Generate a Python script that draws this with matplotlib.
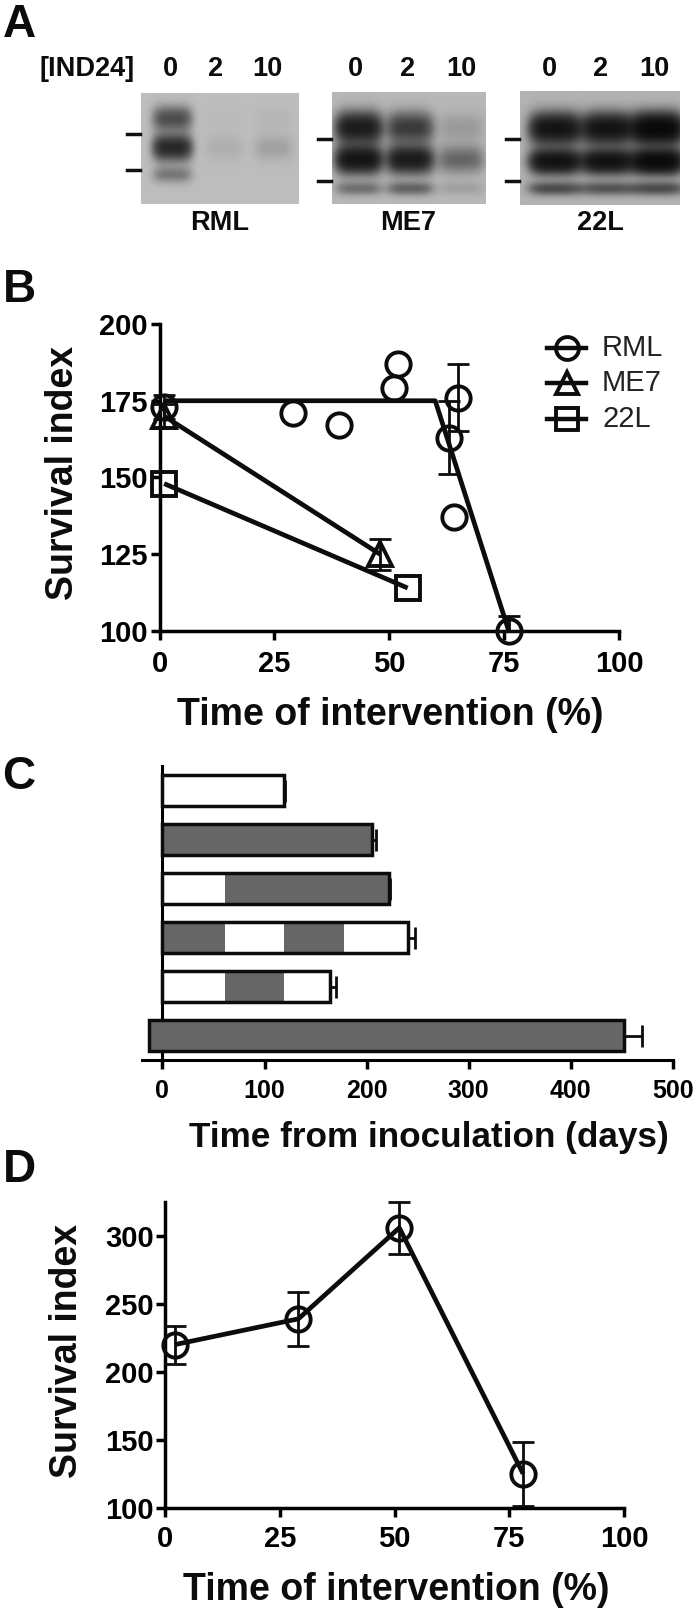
import numpy as np
from matplotlib import pyplot as plt

plt.rcParams['font.family'] = ['Liberation Sans', 'DejaVu Sans']
plt.rcParams['font.weight'] = 'bold'

W, H = 697, 1613
LW = 2.5

# --- Panel A: blots (band rows and lane strengths)
blot_names = ['RML', 'ME7', '22L']
blot_doses = ['0', '2', '10']
dose_x = [[170, 215.5, 267.5], [355.5, 408, 461], [549, 601, 654]]
blot_boxes = [(141, 93, 299, 204), (331.5, 92, 485, 204), (520, 91, 680, 205)]
blot_bg = [0.74, 0.72, 0.70]
lane_x = [[172, 224, 273], [358, 409, 460], [555, 607, 657]]
band_y = [[118, 147, 174], [127, 159, 188], [128, 161, 188]]
band_dark = [
    [[0.90, 0.02, 0.04], [1.55, 0.08, 0.16], [0.45, 0.0, 0.0]],
    [[1.90, 1.15, 0.18], [2.20, 1.90, 0.60], [0.50, 0.62, 0.14]],
    [[2.20, 2.20, 2.90], [2.30, 2.30, 2.80], [0.85, 0.75, 0.85]],
]
band_h = [[8, 8.5, 5.5], [10, 9, 4.5], [10, 8, 4.5]]
band_w = [[16, 16, 16], [19, 19, 19], [21, 21, 22]]
blot_marks = [[134, 170], [139, 181], [139, 181]]

# --- Panel B
rml_x = [1, 29, 39, 51, 52, 63, 64, 65, 76]
rml_y = [173, 171, 167, 179, 187, 163, 137, 176, 100]
rml_err_x = [1, 63, 65, 76]
rml_err_y = [173, 163, 176, 100]
rml_hi = [177, 175, 187, 105]
rml_lo = [169, 151, 165, 100]
rml_fit_x = [1, 60, 76]
rml_fit_y = [175, 175, 100]
me7_x = [1, 48]
me7_y = [170, 125]
me7_hi = [174, 130]
me7_lo = [166, 120]
l22_x = [1, 54]
l22_y = [148, 114]

# --- Panel C
bar_totals = [119, 205, 222, 240, 164, 452]
bar_errs = [1, 4, 1, 7, 6, 18]
bar_first = [0, 0, 0, 0, 0, -13]
seg_edges = [[], [], [61], [61, 119.5, 178], [61, 119.5], []]
seg_start_dark = [False, True, False, True, False, True]

# --- Panel D
d_x = [2, 29, 51, 78]
d_y = [220, 239, 306, 125]
d_hi = [234, 259, 325, 148]
d_lo = [206, 219, 287, 101]


def px_axes(fig, left, top, right, bottom):
    return fig.add_axes([left/W, 1-bottom/H, (right-left)/W, (bottom-top)/H])


def ftext(fig, x, y, s, size, **kw):
    kw.setdefault('ha', 'center')
    kw.setdefault('va', 'center')
    fig.text(x/W, 1-y/H, s, fontsize=size, fontweight='bold', color='#0c0c0c', **kw)


def style_axes(ax, size, pad):
    for name in ['top', 'right']:
        ax.spines[name].set_visible(False)
    for name in ['left', 'bottom']:
        ax.spines[name].set_linewidth(LW)
    ax.tick_params(width=LW, length=6.5, labelsize=size)
    ax.tick_params(axis='x', pad=pad)
    ax.tick_params(axis='y', pad=2)
    ax.patch.set_alpha(0)


def draw_blot(fig, i):
    left, top, right, bottom = blot_boxes[i]
    xs, ys = np.meshgrid(np.arange(left, right), np.arange(top, bottom))
    dark = np.zeros(xs.shape)
    for r, y0 in enumerate(band_y[i]):
        for c, x0 in enumerate(lane_x[i]):
            dark += band_dark[i][r][c]*np.exp(-((xs-x0)/band_w[i][r])**4/2 - ((ys-y0)/band_h[i][r])**2/2)
    ax = px_axes(fig, left, top, right, bottom)
    ax.imshow(blot_bg[i]*np.exp(-dark), cmap='gray', vmin=0, vmax=1, aspect='auto', interpolation='bilinear')
    ax.axis('off')
    for m in blot_marks[i]:
        fig.add_artist(plt.Line2D([(left-14)/W, (left-1)/W], [1-m/H, 1-m/H], color='#111111', lw=LW))
    for x0, dose in zip(dose_x[i], blot_doses):
        ftext(fig, x0, 69, dose, 19.5)
    ftext(fig, (left+right)/2, 223, blot_names[i], 19.5)


def main():
    fig = plt.figure(figsize=(W/100, H/100), dpi=100)

    # --- Panel letters
    for label, y in zip('ABCD', [25, 290, 777, 1170]):
        ftext(fig, 19, y, label, 33)

    # --- Panel A
    ftext(fig, 87, 69, '[IND24]', 19.5)
    for i in range(3):
        draw_blot(fig, i)

    # --- Panel B
    ax = px_axes(fig, 159.6, 324, 619, 631)
    style_axes(ax, 21, 7)
    mk = dict(ms=17.5, mew=2.8, mfc='none', color='#0c0c0c', clip_on=False)
    eb = dict(fmt='none', ecolor='#0c0c0c', capsize=8, capthick=2, elinewidth=2, clip_on=False, zorder=4)
    ax.plot(rml_x, rml_y, 'o', zorder=4, **mk)
    ax.errorbar(rml_err_x, rml_err_y, yerr=[np.array(rml_err_y)-rml_lo, np.array(rml_hi)-rml_err_y], **eb)
    ax.plot(me7_x, me7_y, '^', zorder=4, **mk)
    ax.errorbar(me7_x, me7_y, yerr=[np.array(me7_y)-me7_lo, np.array(me7_hi)-me7_y], **eb)
    ax.plot(l22_x, l22_y, 's', zorder=4, **mk)
    ax.plot(rml_fit_x, rml_fit_y, color='#0c0c0c', lw=3.4, solid_capstyle='butt', clip_on=False, zorder=5)
    ax.plot(me7_x, me7_y, color='#0c0c0c', lw=3.4, solid_capstyle='butt', clip_on=False, zorder=5)
    ax.plot(l22_x, l22_y, color='#0c0c0c', lw=3.4, solid_capstyle='butt', clip_on=False, zorder=5)
    ax.set_xlim(0, 100)
    ax.set_ylim(100, 200)
    ax.set_xticks([0, 25, 50, 75, 100])
    ax.set_yticks([100, 125, 150, 175, 200])
    ftext(fig, 63, 473, 'Survival index', 27, rotation=90)
    ftext(fig, 390, 715, 'Time of intervention (%)', 27)

    # legend drawn by hand to keep the line running through each marker
    for name, marker, y in zip(['RML', 'ME7', '22L'], ['o', '^', 's'], [347.7, 383, 419]):
        yy = 1-y/H
        fig.add_artist(plt.Line2D([547/W, 586/W], [yy, yy], color='#0c0c0c', lw=3.2))
        fig.add_artist(plt.Line2D([567/W], [yy], marker=marker, ms=16.5, mew=2.8, mfc='none', color='#0c0c0c'))
        fig.text(602/W, yy, name, fontsize=21, fontweight='normal', va='center', color='#222222')

    # --- Panel C
    ax = px_axes(fig, 142, 766, 673, 1060)
    style_axes(ax, 18, 7)
    ax.spines['left'].set_position(('data', 0))
    ax.spines['left'].set_linewidth(2.2)
    ax.spines['bottom'].set_linewidth(2.2)
    for row, total in enumerate(bar_totals):
        edges = [bar_first[row]] + seg_edges[row] + [total]
        shade = seg_start_dark[row]
        for a, b in zip(edges[:-1], edges[1:]):
            ax.barh(row, b-a, left=a, height=0.64, color='#666666' if shade else 'white', edgecolor='none', zorder=3)
            shade = not shade
        ax.barh(row, total-bar_first[row], left=bar_first[row], height=0.64, fill=False, edgecolor='#0c0c0c',
                linewidth=LW, zorder=4)
        ax.errorbar(total, row, xerr=[[0], [bar_errs[row]]], color='#0c0c0c', capsize=8, capthick=2,
                    elinewidth=2, zorder=2)
    ax.set_xlim(-20, 500)
    ax.set_ylim(5.5, -0.5)
    ax.set_yticks([])
    ax.set_xticks([0, 100, 200, 300, 400, 500])
    ftext(fig, 429, 1138, 'Time from inoculation (days)', 25.3)

    # --- Panel D
    ax = px_axes(fig, 165.4, 1202, 624, 1507.7)
    style_axes(ax, 21, 6)
    ax.plot(d_x, d_y, 'o', zorder=4, **mk)
    ax.errorbar(d_x, d_y, yerr=[np.array(d_y)-d_lo, np.array(d_hi)-d_y], **eb)
    ax.plot(d_x, d_y, color='#0c0c0c', lw=3.4, solid_capstyle='butt', clip_on=False, zorder=5)
    ax.set_xlim(0, 100)
    ax.set_ylim(100, 325)
    ax.set_xticks([0, 25, 50, 75, 100])
    ax.set_yticks([100, 150, 200, 250, 300])
    ftext(fig, 67, 1351, 'Survival index', 27, rotation=90)
    ftext(fig, 396, 1590, 'Time of intervention (%)', 27)

    plt.savefig('out.png', dpi=100)


if __name__ == '__main__':
    main()
